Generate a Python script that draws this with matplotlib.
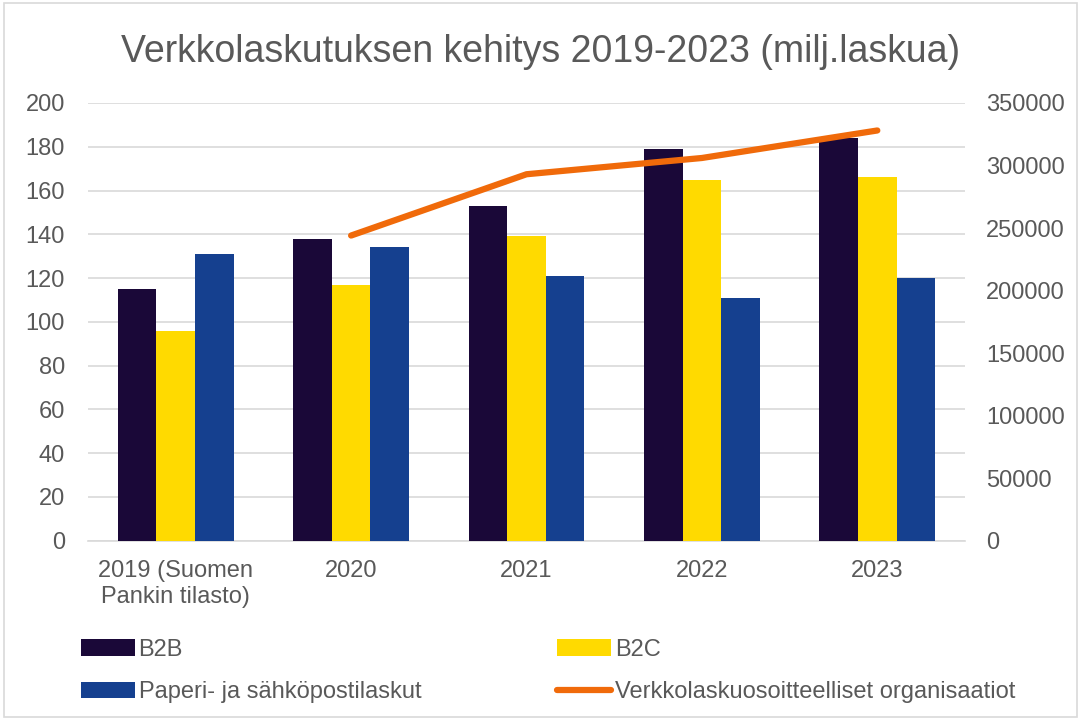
import numpy as np
from matplotlib import pyplot as plt
from matplotlib.patches import Rectangle

categories = ["2019 (Suomen\nPankin tilasto)", "2020", "2021", "2022", "2023"]
b2b = [115, 138, 153, 179, 184]
b2c = [96, 117, 139, 165, 166]
paper = [131, 134, 121, 111, 120]
org_years = [1, 2, 3, 4]
organisations = [244000, 293000, 306000, 328000]

text_grey = "#595959"
grid_grey = "#d9d9d9"

plt.rcParams["font.family"] = ["Liberation Sans", "DejaVu Sans"]

fig = plt.figure(figsize=(10.81, 7.2), dpi=100)
ax = fig.add_axes([0.0814, 0.249, 0.8113, 0.608])
ax2 = ax.twinx()

x = np.arange(len(categories))
w = 0.22
ax.bar(x - w, b2b, w, color="#1a0838", label="B2B", zorder=3)
ax.bar(x, b2c, w, color="#ffda00", label="B2C", zorder=3)
ax.bar(x + w, paper, w, color="#15408f", label="Paperi- ja sähköpostilaskut", zorder=3)
ax2.plot(org_years, organisations, color="#f06a0a", lw=4.5,
         solid_capstyle="round", label="Verkkolaskuosoitteelliset organisaatiot")

ax.set_xlim(-0.5, len(categories) - 0.5)
ax.set_ylim(0, 200)
ax.set_yticks(range(0, 201, 20))
ax2.set_ylim(0, 350000)
ax2.set_yticks(range(0, 350001, 50000))

ax.set_xticks(x)
ax.set_xticklabels(categories, linespacing=1.25)
ax.yaxis.grid(True, color=grid_grey, lw=1.2, zorder=0)
ax.set_axisbelow(True)

for a in (ax, ax2):
    for s in a.spines.values():
        s.set_visible(False)
    a.tick_params(length=0, labelsize=17, labelcolor=text_grey)
ax.spines["bottom"].set_visible(True)
ax.spines["bottom"].set_color(grid_grey)
ax.spines["bottom"].set_linewidth(1.2)
ax.tick_params(axis="y", pad=16.5)
ax2.tick_params(axis="y", pad=15)
ax.tick_params(axis="x", pad=14)

fig.text(0.5, 0.928, "Verkkolaskutuksen kehitys 2019-2023 (milj.laskua)",
         ha="center", va="center", fontsize=27, color=text_grey)

h1, l1 = ax.get_legend_handles_labels()
h2, l2 = ax2.get_legend_handles_labels()
handles = [h1[0], h1[2], h1[1], h2[0]]
labels = [l1[0], l1[2], l1[1], l2[0]]
fig.legend(handles, labels, ncol=2, loc="center left",
           bbox_to_anchor=(0.055, 0.068), frameon=False, fontsize=17,
           labelcolor=text_grey, handlelength=2.3, handleheight=0.7,
           handletextpad=0.15, columnspacing=5.75, labelspacing=0.85)

fig.add_artist(Rectangle((0.004, 0.004), 0.992, 0.992, transform=fig.transFigure,
                         fill=False, edgecolor=grid_grey, lw=1.2))

fig.savefig("out.png", dpi=100)
